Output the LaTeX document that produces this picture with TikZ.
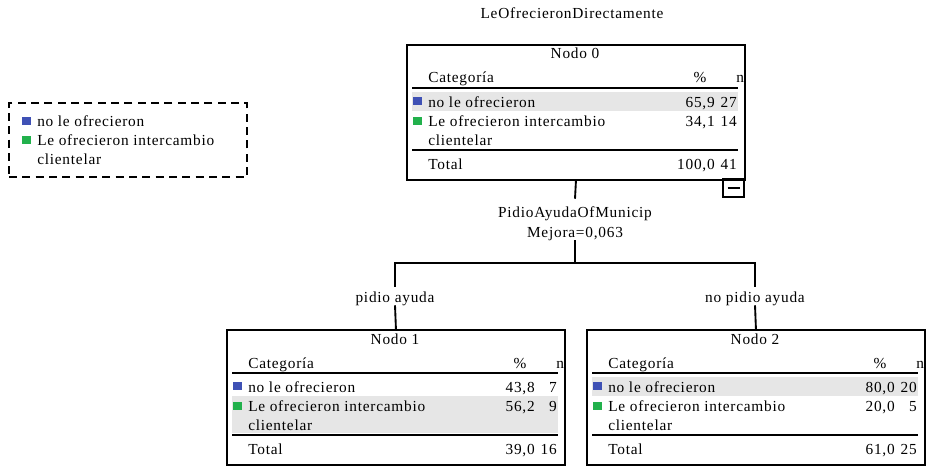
\documentclass[tikz,border=0pt]{standalone}
\usepackage{fontspec}
\setmainfont[LetterSpace=5]{Liberation Serif}
\definecolor{catblue}{RGB}{63,81,181}
\definecolor{catgreen}{RGB}{34,177,76}
\definecolor{rowgray}{RGB}{230,230,230}

\tikzset{
  txt/.style={inner sep=0pt, font=\fontsize{11.5}{13}\selectfont},
  boxframe/.style={draw, line width=1.4pt, minimum width=253.5pt, minimum height=101.25pt, inner sep=0pt},
  rule/.style={line width=1.4pt},
  conn/.style={line width=1.4pt},
  legendframe/.style={draw, line width=1.4pt, dash pattern=on 6pt off 4pt, minimum width=178.5pt, minimum height=55.5pt, inner sep=0pt},
}

% #1 node number, #2 shift, #3 shaded band, #4..#9 percentages and counts
\newcommand{\statbox}[9]{%
  \begin{scope}[shift={#2}]
    \fill[rowgray] #3;
    \node[boxframe, anchor=north west] (n#1) at (0,0) {};
    \node[txt, anchor=base] at (169,15) {Nodo #1};
    \node[txt, anchor=base west] at (22,39) {Categoría};
    \node[txt, anchor=base] at (294,39) {\%};
    \node[txt, anchor=base west] at (330,39) {n};
    \draw[rule] (6,44) -- (332,44);
    \fill[catblue] (7,53) rectangle (16,61);
    \node[txt, anchor=base west] at (22,63) {no le ofrecieron};
    \node[txt, anchor=base east] at (309,63) {#4};
    \node[txt, anchor=base east] at (331,63) {#5};
    \fill[catgreen] (7,73) rectangle (16,81);
    \node[txt, anchor=base west] at (22,82) {Le ofrecieron intercambio};
    \node[txt, anchor=base west] at (22,101) {clientelar};
    \node[txt, anchor=base east] at (309,82) {#6};
    \node[txt, anchor=base east] at (331,82) {#7};
    \draw[rule] (6,106) -- (332,106);
    \node[txt, anchor=base west] at (22,125) {Total};
    \node[txt, anchor=base east] at (309,125) {#8};
    \node[txt, anchor=base east] at (331,125) {#9};
  \end{scope}}

\begin{document}
\begin{tikzpicture}[x=0.75pt, y=-0.75pt]
  \useasboundingbox (0,0) rectangle (930,467);

  % dependent variable
  \node[txt, anchor=base] (title) at (572,19) {LeOfrecieronDirectamente};

  % legend
  \node[legendframe] (legend) at (128,140) {};
  \fill[catblue] (22,117) rectangle (31,125);
  \node[txt, anchor=base west] at (37,126) {no le ofrecieron};
  \fill[catgreen] (22,136) rectangle (31,144);
  \node[txt, anchor=base west] at (37,145) {Le ofrecieron intercambio};
  \node[txt, anchor=base west] at (37,164) {clientelar};

  % tree nodes
  \statbox{0}{(406,44)}{(6,48) rectangle (332,67)}{65,9}{27}{34,1}{14}{100,0}{41}
  \statbox{1}{(226,329)}{(6,67) rectangle (332,104)}{43,8}{7}{56,2}{9}{39,0}{16}
  \statbox{2}{(586,329)}{(6,48) rectangle (332,67)}{80,0}{20}{20,0}{5}{61,0}{25}

  % collapse toggle
  \node[draw, line width=1.4pt, minimum width=15.75pt, minimum height=13.5pt, inner sep=0pt] (toggle) at (733.5,188) {};
  \draw[line width=1.4pt] ([xshift=-4.5pt]toggle.center) -- ([xshift=4.5pt]toggle.center);

  % split
  \node[txt, anchor=base, text height=13.5pt] (split) at (575,217) {PidioAyudaOfMunicip};
  \node[txt, anchor=base, text depth=2.25pt] (gain) at (575,237) {Mejora=0,063};
  \coordinate (j) at (575,263);
  \node[txt, anchor=base, text height=11.25pt, text depth=2.25pt] (lab1) at (395,302) {pidio ayuda};
  \node[txt, anchor=base, text height=11.25pt, text depth=2.25pt] (lab2) at (755,302) {no pidio ayuda};

  \draw[conn] (n0.south) -- (split.north);
  \draw[conn] (gain.south) -- (j);
  \draw[conn] (lab1.north) |- (j) -| (lab2.north);
  \draw[conn] (lab1.south) -- (n1.north);
  \draw[conn] (lab2.south) -- (n2.north);
\end{tikzpicture}
\end{document}
